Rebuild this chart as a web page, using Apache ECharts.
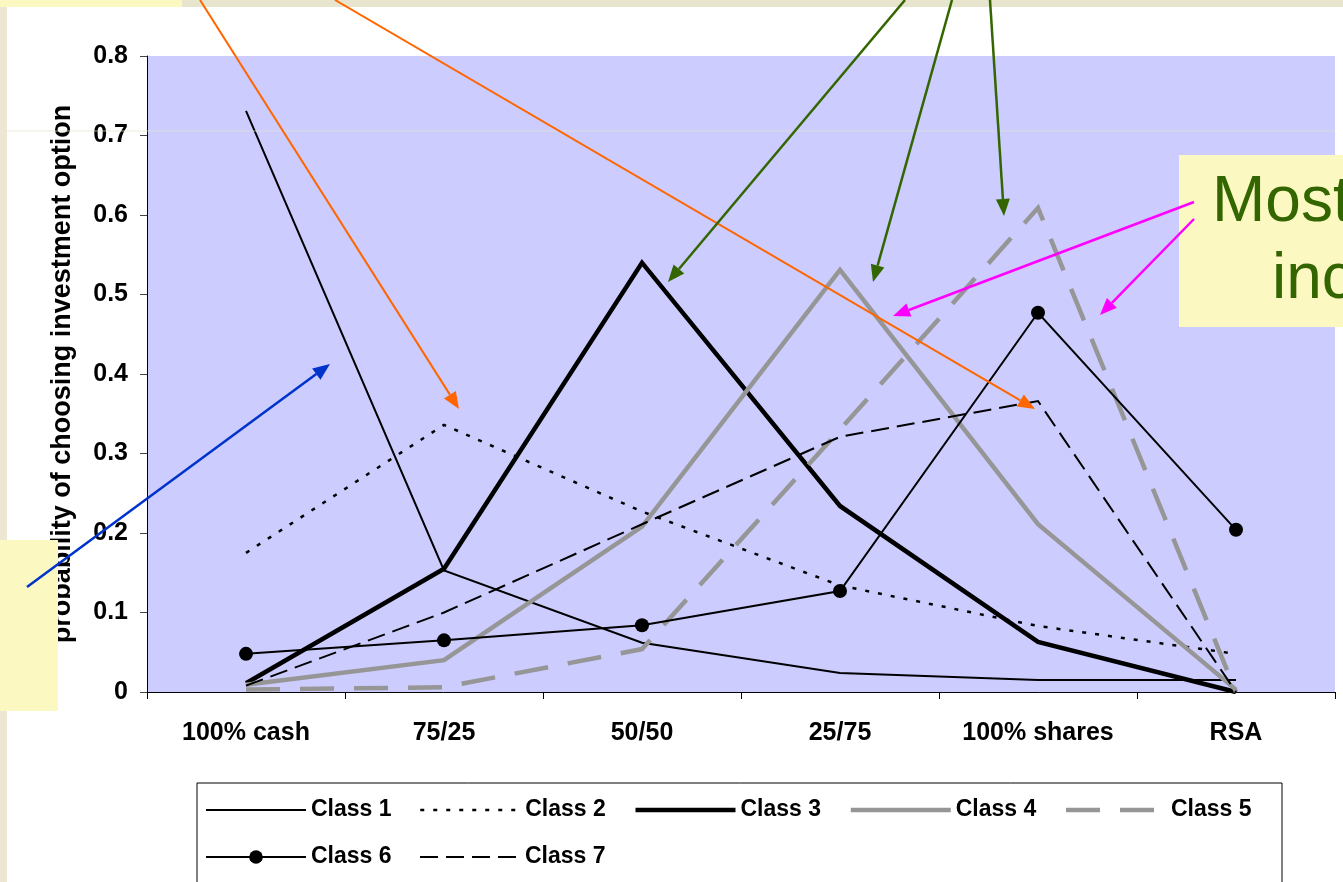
<!DOCTYPE html>
<html>
<head>
<meta charset="utf-8">
<script src="https://cdn.jsdelivr.net/npm/echarts@6/dist/echarts.min.js"></script>
<style>
  html, body { margin: 0; padding: 0; background: #fff; }
  #main { width: 1343px; height: 882px; }
</style>
</head>
<body>
<div id="main"></div>
<script>
// categories on the x axis
const categories = ['100% cash', '75/25', '50/50', '25/75', '100% shares', 'RSA'];
// y ticks
const yTicks = [0, 0.1, 0.2, 0.3, 0.4, 0.5, 0.6, 0.7, 0.8];

// probability per class
const class1 = [0.731, 0.153, 0.062, 0.024, 0.015, 0.015];
const class2 = [0.175, 0.336, 0.227, 0.134, 0.083, 0.048];
const class3 = [0.011, 0.155, 0.540, 0.234, 0.063, 0.000];
const class4 = [0.009, 0.040, 0.208, 0.531, 0.211, 0.003];
const class5 = [0.003, 0.006, 0.054, 0.330, 0.609, 0.000];
const class6 = [0.048, 0.065, 0.084, 0.127, 0.477, 0.204];
const class7 = [0.008, 0.100, 0.211, 0.321, 0.366, 0.000];

const FONT = '"Liberation Sans", Arial, sans-serif';

const chart = echarts.init(document.getElementById('main'));

// arrow = line + small triangle head
function arrow(x1, y1, x2, y2, color, w) {
  const ang = Math.atan2(y2 - y1, x2 - x1);
  const L = 17, H = 7;
  const bx = x2 - L * Math.cos(ang), by = y2 - L * Math.sin(ang);
  const px = -Math.sin(ang) * H, py = Math.cos(ang) * H;
  return [
    { type: 'line', z: 110, shape: { x1: x1, y1: y1, x2: bx, y2: by }, style: { stroke: color, lineWidth: w } },
    { type: 'polygon', z: 110, shape: { points: [[x2, y2], [bx + px, by + py], [bx - px, by - py]] }, style: { fill: color } }
  ];
}

// styles per class (line look + whether it has markers)
const styles = [
  { width: 2, color: '#000', type: 'solid' },
  { width: 2.5, color: '#000', type: [4, 9] },
  { width: 4.5, color: '#000', type: 'solid' },
  { width: 4.5, color: '#969696', type: 'solid' },
  { width: 4.5, color: '#969696', type: [34, 20] },
  { width: 2, color: '#000', type: 'solid', marker: true },
  { width: 2, color: '#000', type: [18, 8] }
];
const names = ['Class 1', 'Class 2', 'Class 3', 'Class 4', 'Class 5', 'Class 6', 'Class 7'];
const values = [class1, class2, class3, class4, class5, class6, class7];

const seriesArr = names.map((name, i) => {
  const s = styles[i];
  return {
    name: name,
    type: 'line',
    data: values[i],
    symbol: s.marker ? 'circle' : 'none',
    symbolSize: 14,
    showSymbol: !!s.marker,
    lineStyle: { color: s.color, width: s.width, type: s.type, join: 'miter' },
    itemStyle: { color: s.color }
  };
});

// legend items: explicit line look, hide the dot where there is no marker
const legendData = names.map((name, i) => {
  const s = styles[i];
  return {
    name: name,
    lineStyle: { color: s.color, width: s.width, type: s.type },
    itemStyle: { color: s.color, opacity: s.marker ? 1 : 0 }
  };
});

const yellow = '#fbf8c2';

const graphics = [
  // slide background bits
  { type: 'rect', z: 100, shape: { x: 0, y: 0, width: 1343, height: 7 }, style: { fill: '#e7e5cd' } },
  { type: 'rect', z: 100, shape: { x: 0, y: 0, width: 7, height: 882 }, style: { fill: '#ede6d4' } },
  { type: 'line', z: 100, shape: { x1: 7, y1: 131, x2: 1335, y2: 131 }, style: { stroke: '#e4e1cc', lineWidth: 1, opacity: 0.7 } },
  // yellow note boxes
  { type: 'rect', z: 101, shape: { x: 0, y: 0, width: 182, height: 7 }, style: { fill: yellow } },
  { type: 'rect', z: 101, shape: { x: 0, y: 540, width: 58, height: 171 }, style: { fill: yellow } },
  { type: 'rect', z: 101, shape: { x: 1179, y: 155, width: 170, height: 172 }, style: { fill: yellow } },
  { type: 'text', z: 102, style: { text: 'Most', x: 1212, y: 203, verticalAlign: 'middle', font: '64px ' + FONT, fill: '#336600' } },
  { type: 'text', z: 102, style: { text: 'inc', x: 1272, y: 280, verticalAlign: 'middle', font: '64px ' + FONT, fill: '#336600' } }
].concat(
  arrow(200, 0, 459, 409, '#ff6600', 2),
  arrow(335, 0, 1035, 409, '#ff6600', 2),
  arrow(905, 0, 668, 282, '#336600', 2.5),
  arrow(952, 0, 873, 282, '#336600', 2.5),
  arrow(990, 0, 1004, 216, '#336600', 2.5),
  arrow(27, 587, 330, 364, '#0033cc', 2.5),
  arrow(1194, 202, 893, 316, '#ff00ff', 2.5),
  arrow(1194, 219, 1100, 315, '#ff00ff', 2.5)
);

const option = {
  animation: false,
  backgroundColor: '#fff',
  textStyle: { fontFamily: FONT },
  grid: {
    left: 147, right: 8, top: 56, bottom: 190,
    show: true, backgroundColor: '#ccccff', borderWidth: 0
  },
  legend: {
    data: legendData,
    left: 197, top: 783,
    width: 1070,
    padding: [10, 16, 30, 8],
    itemGap: 13,
    itemWidth: 100,
    itemHeight: 17,
    borderColor: '#000',
    borderWidth: 1,
    backgroundColor: '#fff',
    textStyle: { fontSize: 23, fontWeight: 'bold', color: '#000', width: 95, lineHeight: 34, fontFamily: FONT }
  },
  xAxis: {
    type: 'category',
    data: categories,
    boundaryGap: true,
    axisLine: { lineStyle: { color: '#000', width: 1 } },
    axisTick: { show: true, length: 7, lineStyle: { color: '#000' } },
    axisLabel: { margin: 29, fontSize: 25, fontWeight: 'bold', color: '#000', fontFamily: FONT },
    splitLine: { show: false }
  },
  yAxis: {
    type: 'value',
    min: yTicks[0],
    max: yTicks[yTicks.length - 1],
    interval: 0.1,
    name: 'probability of choosing investment option',
    nameLocation: 'middle',
    nameGap: 71,
    nameTextStyle: { fontSize: 27, fontWeight: 'bold', color: '#000', fontFamily: FONT },
    axisLine: { show: true, lineStyle: { color: '#000', width: 1 } },
    axisTick: { show: true, length: 7, lineStyle: { color: '#444' } },
    axisLabel: { margin: 19, fontSize: 25, fontWeight: 'bold', color: '#000', fontFamily: FONT,
      formatter: v => String(Math.round(v * 10) / 10) },
    splitLine: { show: false }
  },
  series: seriesArr,
  graphic: { elements: graphics }
};

chart.setOption(option);
</script>
</body>
</html>
